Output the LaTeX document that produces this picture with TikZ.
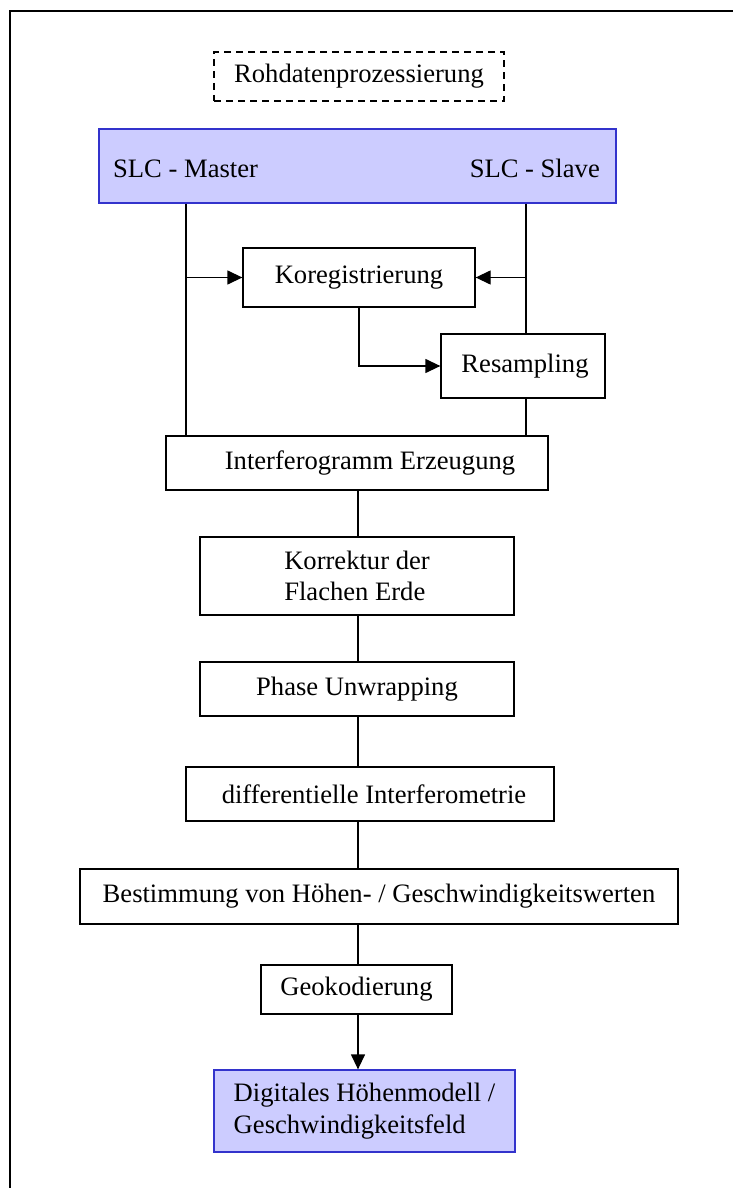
\documentclass[tikz,border=0pt]{standalone}
\usepackage{fontspec}
\setmainfont{Liberation Serif}
\usetikzlibrary{arrows.meta}
\definecolor{boxfill}{HTML}{CCCCFF}
\definecolor{boxline}{HTML}{3333CC}
\tikzset{
  base/.style={draw=black, line width=1.3pt, inner sep=0pt, font=\fontsize{26.6}{31.5}\selectfont, text=black},
  procbox/.style={base},
  dashbox/.style={base, dash pattern=on 7pt off 5pt},
  bluebox/.style={base, fill=boxfill, draw=boxline},
  conn/.style={line width=1.3pt, draw=black},
  arr/.style={conn, -{Triangle[length=15pt,width=14pt]}}
}
\begin{document}
\begin{tikzpicture}[x=1pt,y=-1pt]
\useasboundingbox (0,0) rectangle (733,1188);
\draw[line width=1.6pt] (733,11) -- (10,11) -- (10,1188);

\node[dashbox, minimum width=290pt, minimum height=49pt] (rohd) at (359,76.5) {Rohdatenprozessierung};
\node[bluebox, minimum width=517pt, minimum height=74pt] (slc) at (357.5,166) {};
\node[font=\fontsize{26.6}{31.5}\selectfont, anchor=base west, inner sep=0pt] (master) at (113,177) {SLC - Master};
\node[font=\fontsize{26.6}{31.5}\selectfont, anchor=base east, inner sep=0pt] (slave) at (600,177) {SLC - Slave};

\node[procbox, minimum width=232pt, minimum height=59pt] (koreg) at (359,277.5) {Koregistrierung};
\node[procbox, minimum width=164pt, minimum height=64pt] (resamp) at (523,366) {\hspace*{4pt}Resampling};
\node[procbox, minimum width=382pt, minimum height=54pt] (inter) at (357,463) {\hspace*{26pt}Interferogramm Erzeugung};
\node[procbox, minimum width=314pt, minimum height=78pt, align=left] (korr) at (357,576) {Korrektur der\\Flachen Erde};
\node[procbox, minimum width=314pt, minimum height=54pt] (phase) at (357,689) {Phase Unwrapping};
\node[procbox, minimum width=368pt, minimum height=54pt] (diff) at (370,794) {\hspace*{8pt}differentielle Interferometrie};
\node[procbox, minimum width=598pt, minimum height=55pt] (best) at (379,896.5) {Bestimmung von Höhen- / Geschwindigkeitswerten};
\node[procbox, minimum width=191pt, minimum height=49pt] (geo) at (356.5,989.5) {Geokodierung};
\node[bluebox, minimum width=301pt, minimum height=82pt, align=left] (digi) at (364.5,1111) {Digitales Höhenmodell /\\Geschwindigkeitsfeld};

\coordinate (mx) at (186,0);
\coordinate (sx) at (526,0);
\coordinate (cx) at (358,0);

\draw[conn] (slc.south -| mx) -- (inter.north -| mx);
\draw[arr] (koreg.west -| mx) -- (koreg.west);
\draw[conn] (slc.south -| sx) -- (resamp.north -| sx);
\draw[conn] (resamp.south -| sx) -- (inter.north -| sx);
\draw[arr] (koreg.east -| sx) -- (koreg.east);
\draw[arr] (koreg.south) |- (resamp.west);

\draw[conn] (inter.south -| cx) -- (korr.north -| cx);
\draw[conn] (korr.south -| cx) -- (phase.north -| cx);
\draw[conn] (phase.south -| cx) -- (diff.north -| cx);
\draw[conn] (diff.south -| cx) -- (best.north -| cx);
\draw[conn] (best.south -| cx) -- (geo.north -| cx);
\draw[arr] (geo.south -| cx) -- (digi.north -| cx);
\end{tikzpicture}
\end{document}
